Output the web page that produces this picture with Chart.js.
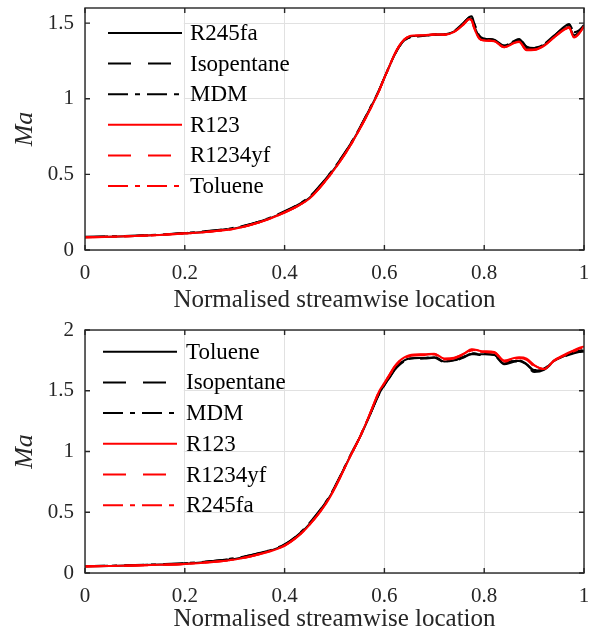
<!DOCTYPE html>
<html>
<head>
<meta charset="utf-8">
<script src="https://cdn.jsdelivr.net/npm/chart.js@4.4.1/dist/chart.umd.min.js"></script>
<style>
  body { margin: 0; background: #fff; }
  .plot { position: relative; width: 591px; }
  canvas { display: block; }
</style>
</head>
<body>
<div class="plot" style="height:318px"><canvas id="topChart" width="591" height="318"></canvas></div>
<div class="plot" style="height:319px"><canvas id="bottomChart" width="591" height="319"></canvas></div>
<script>
// normalised streamwise location (shared by both panels)
const xPos = [0, 0.05, 0.1, 0.15, 0.2, 0.25, 0.3, 0.35, 0.4, 0.43, 0.45, 0.47, 0.49, 0.51, 0.53, 0.55, 0.57, 0.59, 0.6, 0.61,
  0.62, 0.63, 0.64, 0.65, 0.66, 0.68, 0.7, 0.72, 0.74, 0.76, 0.77, 0.775, 0.78, 0.79, 0.8, 0.82, 0.84, 0.86, 0.87, 0.885,
  0.9, 0.92, 0.94, 0.96, 0.97, 0.98, 0.99, 1.0];

const xTicks = [0, 0.2, 0.4, 0.6, 0.8, 1];
const yTicksTop = [0, 0.5, 1, 1.5];
const yTicksBottom = [0, 0.5, 1, 1.5, 2];

// top panel
const namesTop = ['R245fa', 'Isopentane', 'MDM', 'R123', 'R1234yf', 'Toluene'];
const topR245fa = [0.085, 0.088, 0.093, 0.100, 0.110, 0.123, 0.143, 0.185, 0.250, 0.300, 0.345, 0.415, 0.495, 0.585, 0.685, 0.800, 0.925, 1.060, 1.140, 1.215,
  1.290, 1.350, 1.390, 1.410, 1.415, 1.418, 1.425, 1.425, 1.445, 1.500, 1.530, 1.525, 1.480, 1.410, 1.390, 1.385, 1.345, 1.375, 1.385, 1.330,
  1.330, 1.355, 1.410, 1.460, 1.475, 1.420, 1.440, 1.480];
const topIsopentane = [0.086, 0.089, 0.094, 0.101, 0.112, 0.126, 0.147, 0.188, 0.254, 0.305, 0.351, 0.421, 0.501, 0.591, 0.690, 0.804, 0.930, 1.062, 1.140, 1.213,
  1.286, 1.345, 1.386, 1.405, 1.410, 1.415, 1.423, 1.424, 1.447, 1.505, 1.540, 1.545, 1.500, 1.425, 1.400, 1.390, 1.352, 1.385, 1.398, 1.345,
  1.335, 1.360, 1.415, 1.475, 1.495, 1.445, 1.450, 1.485];
const topMDM = [0.087, 0.090, 0.095, 0.102, 0.113, 0.127, 0.148, 0.189, 0.256, 0.307, 0.353, 0.423, 0.503, 0.592, 0.691, 0.805, 0.932, 1.063, 1.142, 1.215,
  1.287, 1.346, 1.385, 1.404, 1.410, 1.416, 1.424, 1.426, 1.450, 1.508, 1.538, 1.540, 1.495, 1.420, 1.398, 1.388, 1.350, 1.382, 1.395, 1.342,
  1.336, 1.362, 1.418, 1.470, 1.490, 1.440, 1.452, 1.488];
const topR123 = [0.084, 0.087, 0.092, 0.099, 0.109, 0.121, 0.140, 0.183, 0.248, 0.297, 0.341, 0.410, 0.490, 0.580, 0.681, 0.796, 0.920, 1.057, 1.138, 1.215,
  1.292, 1.352, 1.393, 1.413, 1.418, 1.420, 1.425, 1.423, 1.442, 1.495, 1.525, 1.515, 1.465, 1.398, 1.385, 1.380, 1.340, 1.368, 1.375, 1.320,
  1.322, 1.350, 1.405, 1.455, 1.470, 1.405, 1.430, 1.478];
const topR1234yf = [0.085, 0.088, 0.093, 0.100, 0.110, 0.122, 0.141, 0.184, 0.249, 0.298, 0.343, 0.411, 0.491, 0.581, 0.682, 0.797, 0.922, 1.058, 1.139, 1.214,
  1.290, 1.350, 1.391, 1.411, 1.416, 1.419, 1.425, 1.424, 1.444, 1.498, 1.528, 1.520, 1.472, 1.402, 1.387, 1.382, 1.342, 1.372, 1.380, 1.325,
  1.326, 1.352, 1.408, 1.458, 1.472, 1.410, 1.435, 1.480];
const topToluene = [0.084, 0.087, 0.092, 0.099, 0.109, 0.121, 0.141, 0.183, 0.248, 0.297, 0.342, 0.410, 0.490, 0.580, 0.681, 0.797, 0.921, 1.058, 1.139, 1.216,
  1.291, 1.351, 1.392, 1.412, 1.417, 1.419, 1.425, 1.423, 1.443, 1.497, 1.527, 1.518, 1.468, 1.400, 1.386, 1.381, 1.341, 1.370, 1.378, 1.322,
  1.324, 1.351, 1.406, 1.456, 1.471, 1.408, 1.432, 1.479];

// bottom panel
const namesBottom = ['Toluene', 'Isopentane', 'MDM', 'R123', 'R1234yf', 'R245fa'];
const botToluene = [0.055, 0.058, 0.063, 0.069, 0.077, 0.092, 0.115, 0.160, 0.230, 0.320, 0.405, 0.505, 0.625, 0.780, 0.950, 1.110, 1.290, 1.480, 1.545, 1.610,
  1.675, 1.720, 1.750, 1.765, 1.770, 1.770, 1.775, 1.740, 1.750, 1.780, 1.800, 1.805, 1.805, 1.800, 1.800, 1.795, 1.725, 1.745, 1.745, 1.715,
  1.665, 1.680, 1.745, 1.785, 1.800, 1.815, 1.825, 1.830];
const botIsopentane = [0.056, 0.059, 0.064, 0.071, 0.080, 0.096, 0.121, 0.164, 0.235, 0.326, 0.411, 0.511, 0.631, 0.785, 0.954, 1.112, 1.292, 1.478, 1.542, 1.605,
  1.668, 1.712, 1.742, 1.758, 1.763, 1.765, 1.772, 1.735, 1.745, 1.775, 1.795, 1.800, 1.800, 1.795, 1.795, 1.790, 1.718, 1.738, 1.740, 1.708,
  1.655, 1.672, 1.740, 1.780, 1.795, 1.808, 1.818, 1.822];
const botMDM = [0.057, 0.060, 0.065, 0.072, 0.081, 0.097, 0.122, 0.165, 0.236, 0.328, 0.413, 0.513, 0.633, 0.786, 0.955, 1.114, 1.295, 1.482, 1.546, 1.610,
  1.672, 1.718, 1.748, 1.763, 1.768, 1.770, 1.778, 1.742, 1.752, 1.783, 1.803, 1.808, 1.808, 1.803, 1.802, 1.797, 1.728, 1.748, 1.750, 1.720,
  1.670, 1.683, 1.748, 1.788, 1.803, 1.818, 1.828, 1.835];
const botR123 = [0.054, 0.057, 0.061, 0.067, 0.074, 0.088, 0.110, 0.155, 0.224, 0.312, 0.396, 0.496, 0.617, 0.775, 0.947, 1.110, 1.300, 1.500, 1.565, 1.632,
  1.698, 1.745, 1.775, 1.792, 1.798, 1.800, 1.805, 1.765, 1.772, 1.808, 1.835, 1.842, 1.840, 1.830, 1.825, 1.820, 1.748, 1.770, 1.775, 1.765,
  1.712, 1.678, 1.750, 1.795, 1.815, 1.835, 1.852, 1.865];
const botR1234yf = [0.054, 0.057, 0.061, 0.067, 0.075, 0.089, 0.111, 0.156, 0.226, 0.314, 0.398, 0.498, 0.619, 0.776, 0.948, 1.111, 1.302, 1.498, 1.562, 1.628,
  1.694, 1.742, 1.772, 1.788, 1.794, 1.797, 1.802, 1.762, 1.770, 1.805, 1.830, 1.838, 1.836, 1.826, 1.822, 1.817, 1.744, 1.766, 1.772, 1.760,
  1.708, 1.680, 1.748, 1.792, 1.812, 1.830, 1.846, 1.858];
const botR245fa = [0.055, 0.058, 0.062, 0.068, 0.075, 0.090, 0.112, 0.157, 0.227, 0.315, 0.399, 0.499, 0.620, 0.777, 0.949, 1.112, 1.300, 1.495, 1.560, 1.625,
  1.690, 1.738, 1.768, 1.784, 1.790, 1.793, 1.798, 1.758, 1.766, 1.800, 1.825, 1.832, 1.830, 1.822, 1.818, 1.813, 1.740, 1.762, 1.768, 1.755,
  1.702, 1.678, 1.745, 1.790, 1.808, 1.825, 1.840, 1.852];

const serif = '"Liberation Serif", "Times New Roman", serif';
const axisCol = '#262626';
const gridCol = '#e1e1e1';

// line styles in legend order: black solid, dashed, dash-dot, then red
const lineStyles = [
  { color: '#000000', dash: [] },
  { color: '#000000', dash: [23, 17] },
  { color: '#000000', dash: [20, 7, 5, 7] },
  { color: '#ff0000', dash: [] },
  { color: '#ff0000', dash: [23, 17] },
  { color: '#ff0000', dash: [20, 7, 5, 7] }
];

// no extra padding from tick labels, the layout is fixed by hand
function noPad(s) {
  s.paddingTop = 0; s.paddingBottom = 0; s.paddingLeft = 0; s.paddingRight = 0;
}

// box around the axes with inward ticks on all four sides
const boxPlugin = {
  id: 'matBox',
  afterDraw(chart) {
    const { ctx, chartArea: a, scales: { x, y } } = chart;
    ctx.save();
    ctx.strokeStyle = axisCol;
    ctx.lineWidth = 1.4;
    ctx.strokeRect(a.left, a.top, a.right - a.left, a.bottom - a.top);
    ctx.beginPath();
    x.ticks.forEach(t => {
      const px = x.getPixelForValue(t.value);
      ctx.moveTo(px, a.bottom); ctx.lineTo(px, a.bottom - 5);
      ctx.moveTo(px, a.top); ctx.lineTo(px, a.top + 5);
    });
    y.ticks.forEach(t => {
      const py = y.getPixelForValue(t.value);
      ctx.moveTo(a.left, py); ctx.lineTo(a.left + 5, py);
      ctx.moveTo(a.right, py); ctx.lineTo(a.right - 5, py);
    });
    ctx.stroke();
    ctx.restore();
  }
};

// legend drawn inside the plot, upper left
const insideLegend = {
  id: 'insideLegend',
  afterDatasetsDraw(chart, args, opts) {
    const { ctx, chartArea: a, scales: { x } } = chart;
    ctx.save();
    ctx.fillStyle = '#fff';
    const right = x.getPixelForValue(0.2) - 1;
    ctx.fillRect(a.left + 5, a.top + opts.y0 - 14, right - a.left - 5, opts.dy * 5 + 28);
    chart.data.datasets.forEach((ds, i) => {
      const yy = a.top + opts.y0 + i * opts.dy;
      ctx.strokeStyle = ds.borderColor;
      ctx.lineWidth = ds.borderWidth;
      ctx.setLineDash(ds.borderDash);
      ctx.beginPath();
      ctx.moveTo(a.left + opts.x0, yy);
      ctx.lineTo(a.left + opts.x1, yy);
      ctx.stroke();
      ctx.setLineDash([]);
      ctx.fillStyle = '#000';
      ctx.font = '23px ' + serif;
      ctx.textBaseline = 'middle';
      ctx.fillText(ds.label, a.left + opts.tx, yy + 1);
    });
    ctx.restore();
  }
};

function makeChart(id, names, series, yMax, yTicks, padTop, xAxisH, legendOpts) {
  const datasets = series.map((vals, i) => ({
    label: names[i],
    data: vals.map((v, j) => ({ x: xPos[j], y: v })),
    borderColor: lineStyles[i].color,
    borderDash: lineStyles[i].dash,
    borderWidth: 2,
    pointRadius: 0,
    fill: false,
    cubicInterpolationMode: 'monotone',
    order: series.length - i
  }));

  return new Chart(document.getElementById(id), {
    type: 'line',
    data: { datasets: datasets },
    options: {
      responsive: false,
      animation: false,
      devicePixelRatio: 1,
      layout: { padding: { top: padTop, right: 7, left: 0, bottom: 0 } },
      plugins: {
        legend: { display: false },
        tooltip: { enabled: false },
        insideLegend: legendOpts
      },
      scales: {
        x: {
          type: 'linear',
          min: 0,
          max: 1,
          afterBuildTicks: s => { s.ticks = xTicks.map(v => ({ value: v })); },
          afterFit: s => { s.height = xAxisH; noPad(s); },
          ticks: { callback: v => String(v), font: { family: serif, size: 21 }, color: axisCol, padding: 11, maxRotation: 0, autoSkip: false },
          grid: { color: gridCol, drawTicks: false },
          border: { display: false },
          title: { display: true, text: 'Normalised streamwise location', font: { family: serif, size: 25 }, color: axisCol, padding: { top: 0, bottom: 3 } }
        },
        y: {
          type: 'linear',
          min: 0,
          max: yMax,
          afterBuildTicks: s => { s.ticks = yTicks.map(v => ({ value: v })); },
          afterFit: s => { s.width = 85; noPad(s); },
          ticks: { callback: v => String(v), font: { family: serif, size: 21, lineHeight: 1 }, color: axisCol, padding: 11 },
          grid: { color: gridCol, drawTicks: false },
          border: { display: false },
          title: { display: true, text: 'Ma', font: { family: serif, size: 26, style: 'italic' }, color: axisCol, padding: { top: 10, bottom: 0 } }
        }
      }
    },
    plugins: [insideLegend, boxPlugin]
  });
}

makeChart('topChart', namesTop,
  [topR245fa, topIsopentane, topMDM, topR123, topR1234yf, topToluene],
  1.6, yTicksTop, 8, 68, { x0: 23, x1: 97, tx: 105, y0: 25, dy: 30.6 });

makeChart('bottomChart', namesBottom,
  [botToluene, botIsopentane, botMDM, botR123, botR1234yf, botR245fa],
  2, yTicksBottom, 12, 64, { x0: 18, x1: 92, tx: 101, y0: 21.7, dy: 30.7 });
</script>
</body>
</html>
